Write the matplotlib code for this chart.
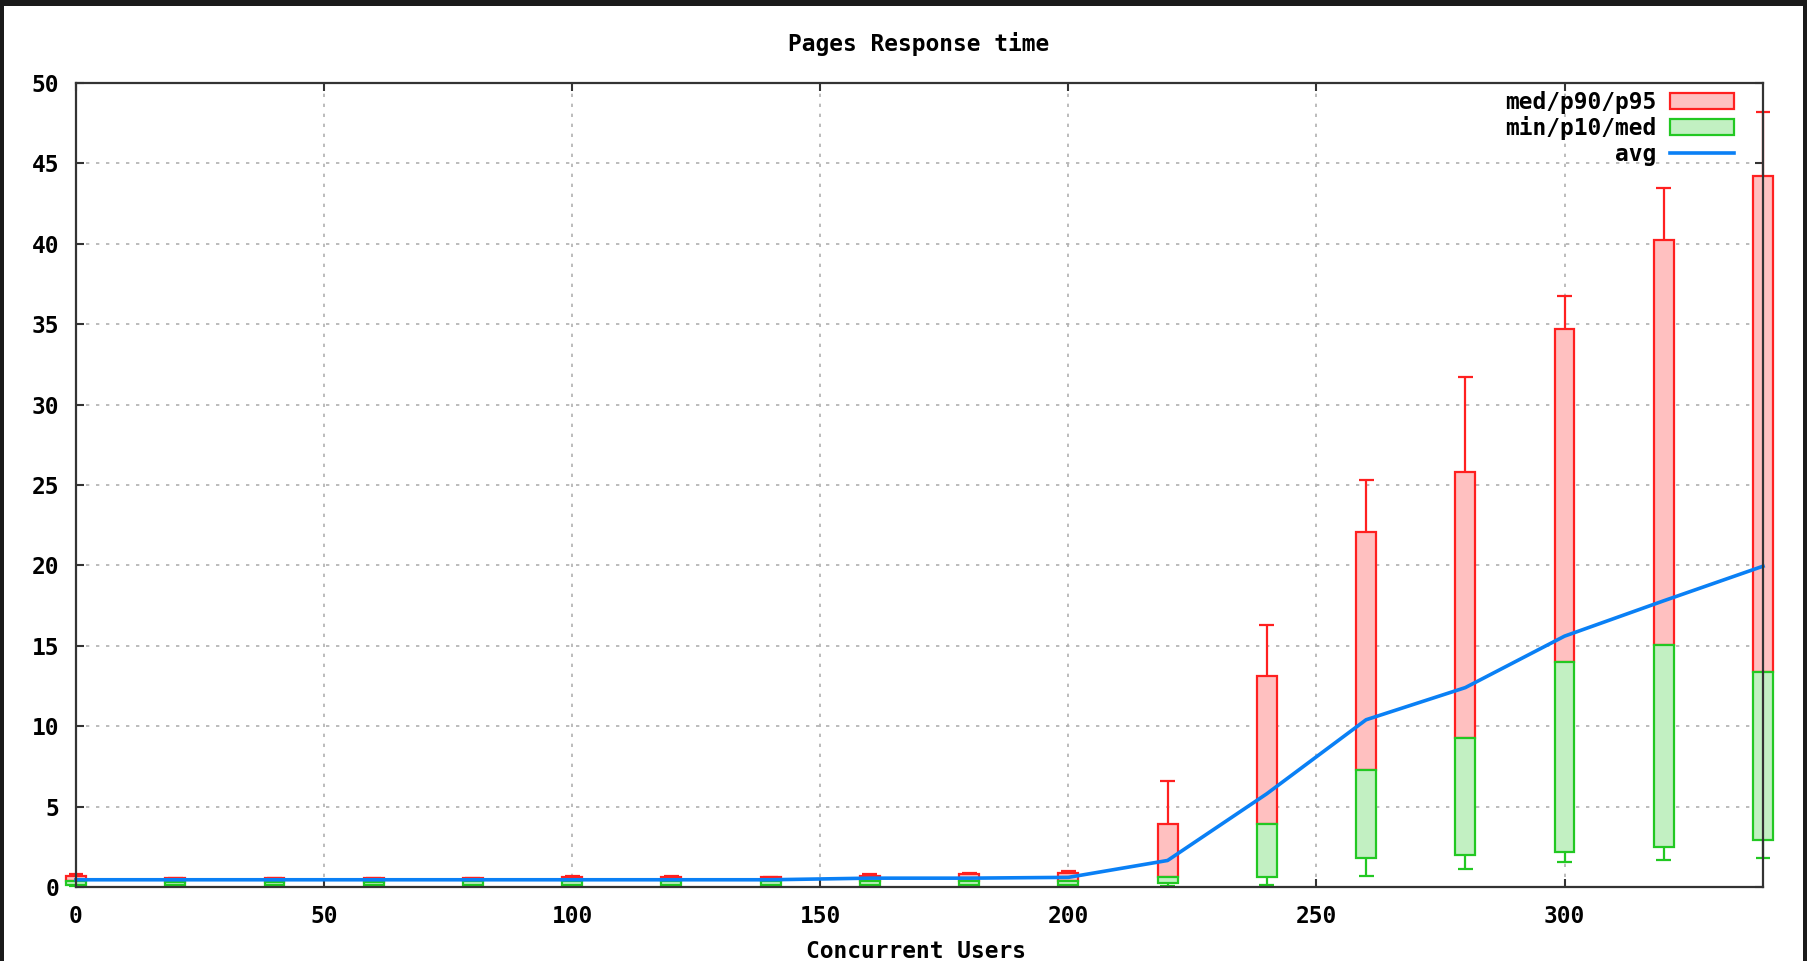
import matplotlib
matplotlib.use('Agg')
import matplotlib.pyplot as plt
from matplotlib.patches import Rectangle, Patch
from matplotlib.lines import Line2D

# concurrent users and response time stats (seconds)
users = [0, 20, 40, 60, 80, 100, 120, 140, 160, 180, 200, 220, 240, 260, 280, 300, 320, 340]
t_min = [0.05, 0.05, 0.05, 0.05, 0.05, 0.05, 0.05, 0.05, 0.05, 0.05, 0.05, 0.05, 0.15, 0.7, 1.15, 1.55, 1.7, 1.8]
t_p10 = [0.1, 0.1, 0.1, 0.1, 0.1, 0.1, 0.1, 0.1, 0.1, 0.1, 0.1, 0.25, 0.65, 1.8, 2.0, 2.15, 2.5, 2.9]
t_med = [0.35, 0.3, 0.3, 0.3, 0.35, 0.35, 0.35, 0.35, 0.4, 0.4, 0.4, 0.65, 3.9, 7.3, 9.25, 14.0, 15.05, 13.4]
t_p90 = [0.7, 0.55, 0.55, 0.55, 0.55, 0.6, 0.6, 0.65, 0.7, 0.8, 0.85, 3.9, 13.1, 22.05, 25.8, 34.7, 40.25, 44.2]
t_p95 = [0.8, 0.55, 0.55, 0.55, 0.55, 0.7, 0.7, 0.65, 0.8, 0.9, 1.0, 6.6, 16.3, 25.3, 31.7, 36.75, 43.5, 48.2]
t_avg = [0.45, 0.45, 0.45, 0.45, 0.45, 0.45, 0.45, 0.45, 0.55, 0.55, 0.6, 1.65, 5.8, 10.4, 12.4, 15.6, 17.8, 19.95]

RED, RED_FILL = '#ff2020', '#ffc0c0'
GREEN, GREEN_FILL = '#22c822', '#c2f0c2'
BLUE = '#0a80f5'
AXC = '#333333'
FONT = dict(family='DejaVu Sans Mono', weight='bold', size=16.5)

W, H = 1807, 961
fig = plt.figure(figsize=(W / 100, H / 100), dpi=100, facecolor='#1a1a1a')
fig.patches.append(Rectangle((4 / W, 0), (1803 - 4) / W, (H - 6) / H,
                             transform=fig.transFigure, facecolor='white',
                             edgecolor='none', zorder=-10))

ax = fig.add_axes([76 / W, (H - 887) / H, (1763 - 76) / W, (887 - 83) / H])
ax.set_xlim(0, 340)
ax.set_ylim(0, 50)

bw = 4.0   # box width
cw = 3.0   # whisker cap width
for x, mn, p10, md, p90, p95 in zip(users, t_min, t_p10, t_med, t_p90, t_p95):
    ax.add_patch(Rectangle((x - bw / 2, md), bw, p90 - md, facecolor=RED_FILL,
                           edgecolor=RED, lw=1.6, zorder=3, clip_on=False))
    ax.vlines(x, p90, p95, color=RED, lw=1.6, zorder=3, clip_on=False)
    ax.hlines(p95, x - cw / 2, x + cw / 2, color=RED, lw=1.6, zorder=3, clip_on=False)
    ax.add_patch(Rectangle((x - bw / 2, p10), bw, md - p10, facecolor=GREEN_FILL,
                           edgecolor=GREEN, lw=1.6, zorder=4, clip_on=False))
    ax.vlines(x, mn, p10, color=GREEN, lw=1.6, zorder=4, clip_on=False)
    ax.hlines(mn, x - cw / 2, x + cw / 2, color=GREEN, lw=1.6, zorder=4, clip_on=False)

ax.plot(users, t_avg, color=BLUE, lw=2.6, zorder=5, clip_on=False)

ax.set_xticks(range(0, 301, 50))
ax.set_yticks(range(0, 51, 5))
ax.grid(True, color='#b0b0b0', linestyle=(0, (2, 4)), lw=1.2, zorder=0)
ax.set_axisbelow(True)
for s in ax.spines.values():
    s.set_color(AXC)
    s.set_linewidth(1.6)
    s.set_zorder(6)
ax.tick_params(direction='in', length=6, width=1.5, color=AXC,
               top=True, right=True, labelsize=16.5)
ax.tick_params(axis='x', pad=13)
ax.tick_params(axis='y', pad=12)
for lab in ax.get_xticklabels() + ax.get_yticklabels():
    lab.set_fontfamily('DejaVu Sans Mono')
    lab.set_fontweight('bold')

handles = [Patch(facecolor=RED_FILL, edgecolor=RED, lw=1.6),
           Patch(facecolor=GREEN_FILL, edgecolor=GREEN, lw=1.6),
           Line2D([], [], color=BLUE, lw=2.6)]
leg = ax.legend(handles, ['med/p90/p95', 'min/p10/med', 'avg'], loc='upper right',
                bbox_to_anchor=(0.983, 0.99), borderaxespad=0, borderpad=0,
                frameon=False, markerfirst=False, handlelength=2.8,
                handletextpad=0.6, labelspacing=0.1, prop=FONT)
for t in leg.get_texts():
    t.set_ha('right')
leg.set_zorder(10)

fig.text(919 / W, 1 - 44 / H, 'Pages Response time', ha='center', va='center', **FONT)
fig.text(916 / W, 1 - 952 / H, 'Concurrent Users', ha='center', va='center', **FONT)

fig.savefig('out.png', dpi=100, facecolor=fig.get_facecolor())
